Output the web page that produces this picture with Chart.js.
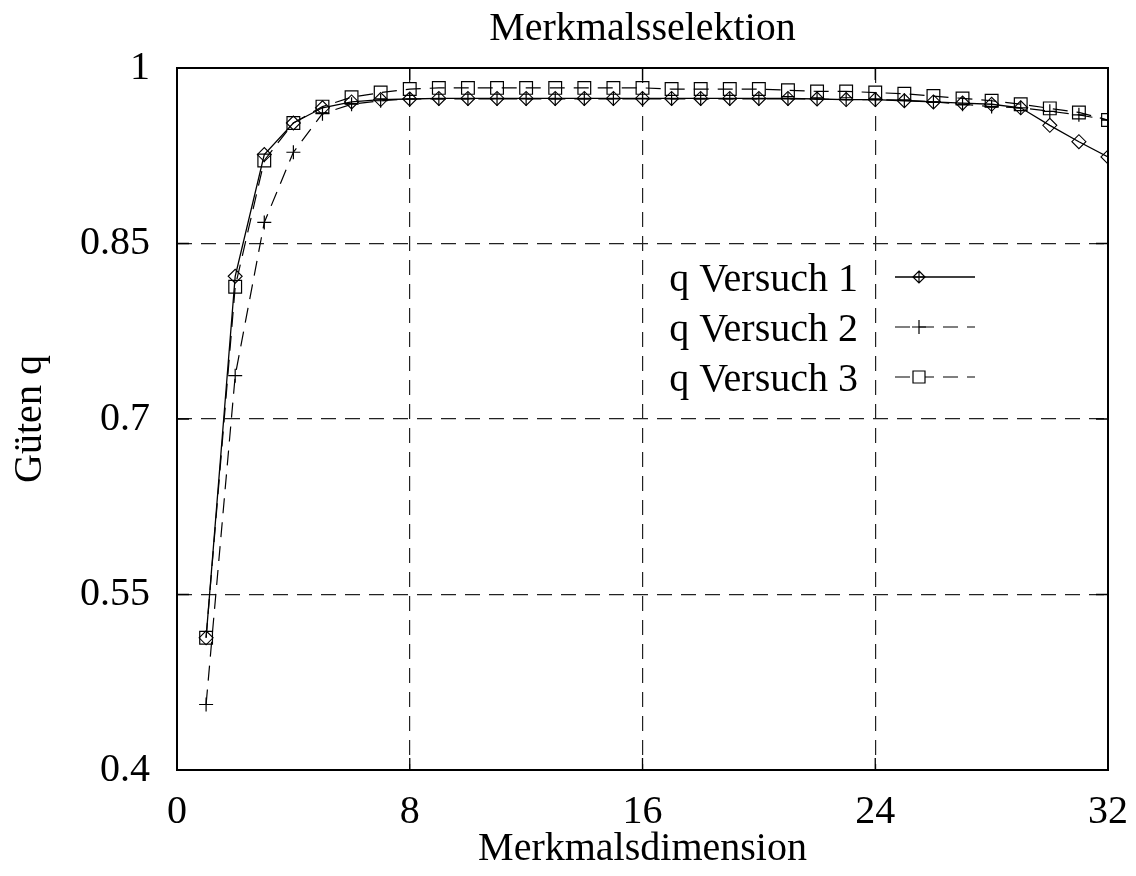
<!DOCTYPE html>
<html>
<head>
<meta charset="utf-8">
<title>Merkmalsselektion</title>
<script src="https://cdn.jsdelivr.net/npm/chart.js@4.4.1/dist/chart.umd.min.js"></script>
<style>
  html, body { margin: 0; padding: 0; background: #fff; }
  canvas { display: block; }
</style>
</head>
<body>
<canvas id="chart" width="1136" height="876"></canvas>
<script>
// === Data ===
const dims = [1, 2, 3, 4, 5, 6, 7, 8, 9, 10, 11, 12, 13, 14, 15, 16,
              17, 18, 19, 20, 21, 22, 23, 24, 25, 26, 27, 28, 29, 30, 31, 32];

const versuch1 = [0.513, 0.822, 0.926, 0.953, 0.966, 0.971, 0.973, 0.9735, 0.974, 0.974, 0.974, 0.974,
                  0.974, 0.974, 0.974, 0.974, 0.974, 0.974, 0.974, 0.974, 0.974, 0.9735, 0.973, 0.973,
                  0.972, 0.971, 0.970, 0.969, 0.966, 0.951, 0.937, 0.924];

const versuch2 = [0.456, 0.737, 0.868, 0.928, 0.961, 0.969, 0.972, 0.9735, 0.9735, 0.9735, 0.9735, 0.9735,
                  0.9735, 0.9735, 0.9735, 0.9735, 0.9735, 0.9735, 0.9735, 0.9735, 0.9735, 0.9735, 0.973, 0.973,
                  0.9725, 0.971, 0.969, 0.967, 0.966, 0.963, 0.960, 0.9555];

const versuch3 = [0.513, 0.813, 0.921, 0.953, 0.967, 0.975, 0.979, 0.982, 0.983, 0.983, 0.983, 0.983,
                  0.983, 0.983, 0.983, 0.983, 0.982, 0.982, 0.982, 0.982, 0.981, 0.980, 0.980, 0.979,
                  0.978, 0.976, 0.974, 0.972, 0.969, 0.9655, 0.962, 0.9555];

const xTicks = [0, 8, 16, 24, 32];
const yTicks = [0.4, 0.55, 0.7, 0.85, 1];
const yTickLabels = ['0.4', '0.55', '0.7', '0.85', '1'];

const seriesNames = ['q Versuch 1', 'q Versuch 2', 'q Versuch 3'];

const FONT = 'Liberation Serif';
const DASH = [15, 9];

// center the title over the plot area instead of the whole canvas
const titleCenterPlugin = {
    id: 'titleCenter',
    afterLayout(chart) {
        const t = chart.titleBlock;
        if (!t) return;
        t.left = chart.chartArea.left;
        t.right = chart.chartArea.right;
        t.width = t.right - t.left;
    }
};

// gnuplot-like frame with inward tick marks
const framePlugin = {
    id: 'frame',
    afterDatasetsDraw(chart) {
        const { ctx, chartArea: a, scales } = chart;
        ctx.save();
        ctx.strokeStyle = '#000';
        ctx.lineWidth = 1.3;
        ctx.setLineDash([]);
        const len = 12;
        yTicks.forEach(v => {
            const y = scales.y.getPixelForValue(v);
            ctx.beginPath();
            ctx.moveTo(a.left, y); ctx.lineTo(a.left + len, y);
            ctx.moveTo(a.right, y); ctx.lineTo(a.right - len, y);
            ctx.stroke();
        });
        xTicks.forEach(v => {
            const x = scales.x.getPixelForValue(v);
            ctx.beginPath();
            ctx.moveTo(x, a.bottom); ctx.lineTo(x, a.bottom - len);
            ctx.moveTo(x, a.top); ctx.lineTo(x, a.top + len);
            ctx.stroke();
        });
        ctx.lineWidth = 2;
        ctx.strokeRect(a.left, a.top, a.right - a.left, a.bottom - a.top);
        ctx.restore();
    }
};

// legend inside the plot: text right-aligned, line sample to the right
const legendPlugin = {
    id: 'innerLegend',
    afterDraw(chart) {
        const { ctx } = chart;
        const rows = [277, 327, 377];
        ctx.save();
        ctx.font = '40px "' + FONT + '"';
        ctx.fillStyle = '#000';
        ctx.textAlign = 'right';
        ctx.textBaseline = 'alphabetic';
        chart.data.datasets.forEach((ds, i) => {
            const y = rows[i];
            ctx.fillText(seriesNames[i], 858, y + 14);
            ctx.strokeStyle = '#000';
            ctx.lineWidth = ds.borderWidth;
            ctx.setLineDash(ds.borderDash || []);
            ctx.beginPath();
            ctx.moveTo(895, y); ctx.lineTo(975, y);
            ctx.stroke();
            ctx.setLineDash([]);
            ctx.lineWidth = 1.2;
            const mx = 919;
            ctx.beginPath();
            if (ds.pointStyle === 'rectRot') {
                const r = 6;
                ctx.moveTo(mx, y - r); ctx.lineTo(mx + r, y); ctx.lineTo(mx, y + r); ctx.lineTo(mx - r, y); ctx.closePath();
                ctx.moveTo(mx - r, y); ctx.lineTo(mx + r, y);
                ctx.moveTo(mx, y - r); ctx.lineTo(mx, y + r);
            } else if (ds.pointStyle === 'cross') {
                ctx.moveTo(mx - 7, y); ctx.lineTo(mx + 7, y);
                ctx.moveTo(mx, y - 7); ctx.lineTo(mx, y + 7);
            } else {
                ctx.fillStyle = '#fff';
                ctx.fillRect(mx - 6, y - 6, 12, 12);
                ctx.rect(mx - 6, y - 6, 12, 12);
            }
            ctx.stroke();
        });
        ctx.restore();
    }
};

const toPoints = vals => dims.map((d, i) => ({ x: d, y: vals[i] }));

new Chart(document.getElementById('chart'), {
    type: 'line',
    data: {
        datasets: [
            {
                label: seriesNames[0],
                data: toPoints(versuch1),
                borderColor: '#000',
                borderWidth: 1.3,
                pointStyle: 'rectRot',
                pointRadius: 7,
                pointBorderWidth: 1.1,
                pointBorderColor: '#000',
                pointBackgroundColor: 'rgba(0,0,0,0)',
                tension: 0
            },
            {
                label: seriesNames[1],
                data: toPoints(versuch2),
                borderColor: '#000',
                borderWidth: 1.2,
                borderDash: DASH,
                pointStyle: 'cross',
                pointRadius: 7,
                pointBorderWidth: 1.2,
                pointBorderColor: '#000',
                tension: 0
            },
            {
                label: seriesNames[2],
                data: toPoints(versuch3),
                borderColor: '#000',
                borderWidth: 1.2,
                borderDash: DASH,
                pointStyle: 'rect',
                pointRadius: 9,
                pointBorderWidth: 1.2,
                pointBorderColor: '#000',
                pointBackgroundColor: 'rgba(0,0,0,0)',
                tension: 0
            }
        ]
    },
    options: {
        responsive: false,
        devicePixelRatio: 1,
        animation: false,
        layout: { padding: { left: 0, right: 28, top: 0, bottom: 0 } },
        plugins: {
            legend: { display: false },
            tooltip: { enabled: false },
            title: {
                display: true,
                text: 'Merkmalsselektion',
                color: '#000',
                font: { family: FONT, size: 40, weight: 'normal', lineHeight: 1.2 },
                padding: { top: 5, bottom: 15 }
            }
        },
        scales: {
            x: {
                type: 'linear',
                min: 0,
                max: 32,
                afterBuildTicks: s => { s.ticks = xTicks.map(v => ({ value: v })); },
                afterFit: s => { s.height = 106; s.paddingLeft = 0; s.paddingRight = 0; },
                ticks: {
                    color: '#000',
                    padding: 18,
                    maxRotation: 0,
                    font: { family: FONT, size: 40 },
                    callback: v => String(v)
                },
                grid: {
                    drawTicks: false,
                    color: c => (c.tick && (c.tick.value === 0 || c.tick.value === 32)) ? 'rgba(0,0,0,0)' : '#222',
                    lineWidth: 1.2
                },
                border: { display: false, dash: DASH },
                title: {
                    display: true,
                    text: 'Merkmalsdimension',
                    color: '#000',
                    font: { family: FONT, size: 40, lineHeight: 1.2 },
                    padding: { top: 0, bottom: 3 }
                }
            },
            y: {
                type: 'linear',
                min: 0.4,
                max: 1,
                afterBuildTicks: s => { s.ticks = yTicks.map(v => ({ value: v })); },
                afterFit: s => { s.width = 177; },
                ticks: {
                    color: '#000',
                    padding: 27,
                    font: { family: FONT, size: 40 },
                    callback: v => yTickLabels[yTicks.findIndex(t => Math.abs(t - v) < 1e-9)]
                },
                grid: {
                    drawTicks: false,
                    color: c => (c.tick && (Math.abs(c.tick.value - 0.4) < 1e-9 || Math.abs(c.tick.value - 1) < 1e-9)) ? 'rgba(0,0,0,0)' : '#222',
                    lineWidth: 1.2
                },
                border: { display: false, dash: DASH },
                title: {
                    display: true,
                    text: 'Güten q',
                    color: '#000',
                    font: { family: FONT, size: 40, lineHeight: 1.2 },
                    padding: { top: 6, bottom: 0 }
                }
            }
        }
    },
    plugins: [titleCenterPlugin, framePlugin, legendPlugin]
});
</script>
</body>
</html>
